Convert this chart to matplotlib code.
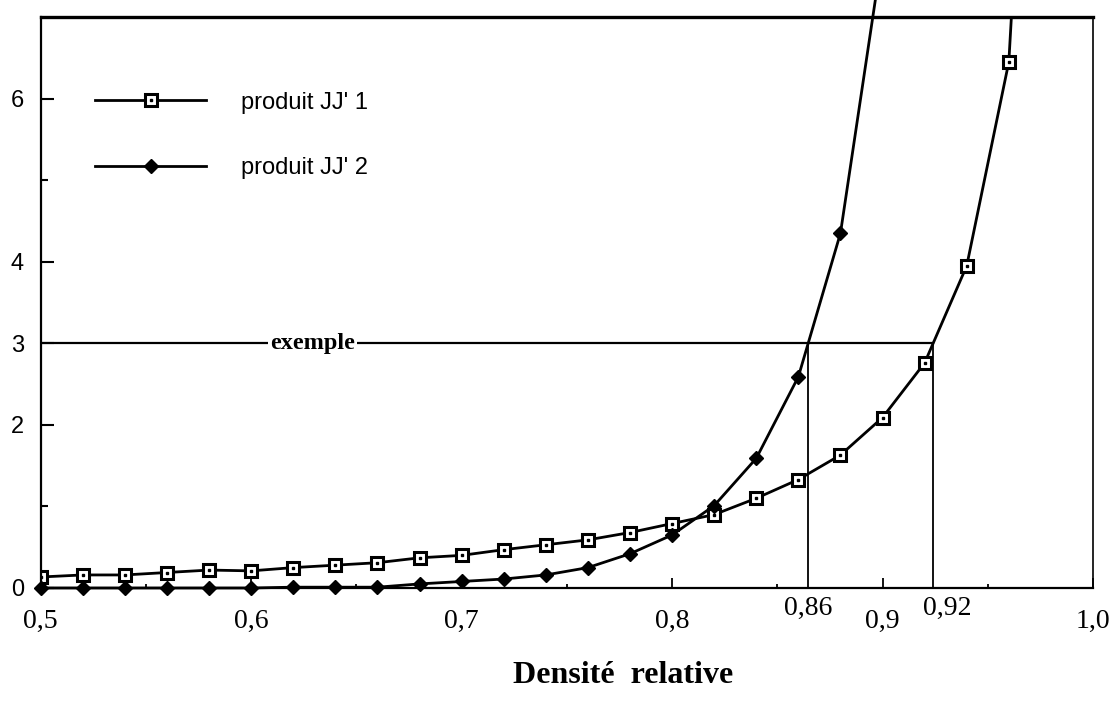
import matplotlib
matplotlib.use('Agg')
import matplotlib.pyplot as plt
import numpy as np
from matplotlib.legend_handler import HandlerTuple

# densité relative (abscisse commune)
dens1 = [0.50, 0.52, 0.54, 0.56, 0.58, 0.60, 0.62, 0.64, 0.66, 0.68, 0.70, 0.72,
         0.74, 0.76, 0.78, 0.80, 0.82, 0.84, 0.86, 0.88, 0.90, 0.92, 0.94, 0.96, 0.98]
jj1 = [0.135, 0.16, 0.16, 0.19, 0.22, 0.21, 0.25, 0.28, 0.31, 0.37, 0.40, 0.47,
       0.53, 0.59, 0.68, 0.79, 0.90, 1.10, 1.33, 1.63, 2.09, 2.76, 3.95, 6.45, 15.5]

dens2 = [0.50, 0.52, 0.54, 0.56, 0.58, 0.60, 0.62, 0.64, 0.66, 0.68, 0.70, 0.72,
         0.74, 0.76, 0.78, 0.80, 0.82, 0.84, 0.86, 0.88, 0.90]
jj2 = [0.0, 0.0, 0.0, 0.0, 0.0, 0.0, 0.01, 0.01, 0.01, 0.05, 0.08, 0.11,
       0.16, 0.25, 0.42, 0.65, 1.01, 1.59, 2.59, 4.35, 7.8]

seuil = 3  # valeur "exemple"

xticks = [0.5, 0.6, 0.7, 0.8, 0.9, 1.0]
xlabels = ['0,5', '0,6', '0,7', '0,8', '0,9', '1,0']
xminor = [0.55, 0.65, 0.75, 0.85, 0.95]
yticks = [0, 2, 3, 4, 6]
ylabels = ['0', '2', '3', '4', '6']
yminor = [1, 5]

SERIF = 'Liberation Serif'
SANS = 'Liberation Sans'


def croise(xs, ys, niveau):
    # premier point ou la courbe franchit le niveau
    for i in range(len(ys) - 1):
        if ys[i] < niveau <= ys[i + 1]:
            return xs[i] + (xs[i + 1] - xs[i]) * (niveau - ys[i]) / (ys[i + 1] - ys[i])
    return xs[-1]


fig = plt.figure(figsize=(11.16, 7.01), dpi=100)
ax = fig.add_axes([0.0365, 0.1612, 0.9429, 0.8145])

ln1, = ax.plot(dens1, jj1, color='black', lw=2.0, marker='s', ms=8.5,
               mfc='white', mec='black', mew=2.2, clip_on=True)
dot1, = ax.plot(dens1, jj1, ls='none', marker='s', ms=1.8, color='black')
ln2, = ax.plot(dens2, jj2, color='black', lw=2.0, marker='D', ms=7.2,
               mfc='black', mec='black', clip_on=False)

x_a = croise(dens2, jj2, seuil)
x_b = croise(dens1, jj1, seuil)

ax.plot([0.5, x_b], [seuil, seuil], color='black', lw=1.6)
ax.vlines([x_a, x_b], 0, seuil, color='black', lw=1.3)
ax.text(0.629, seuil, 'exemple', family=SERIF, fontsize=17.5, fontweight='bold',
        ha='center', va='center',
        bbox=dict(fc='white', ec='none', pad=1.5))

ax.set_xlim(0.5, 1.0)
ax.set_ylim(0, 7.0)

ax.set_xticks(xticks)
ax.set_xticklabels(xlabels, family=SERIF, fontsize=20)
ax.set_xticks(xminor, minor=True)
ax.set_yticks(yticks)
ax.set_yticklabels(ylabels, family=SANS, fontsize=17)
ax.set_yticks(yminor, minor=True)
ax.tick_params(axis='x', which='major', direction='in', length=7, width=1.3, pad=15)
ax.tick_params(axis='x', which='minor', direction='in', length=3, width=1.3)
ax.tick_params(axis='y', which='major', direction='in', length=9, width=1.5, pad=12)
ax.tick_params(axis='y', which='minor', direction='in', length=5, width=1.5)

# valeurs
ax.annotate('0,86', xy=(x_a, 0), xytext=(0, -6), textcoords='offset points',
            ha='center', va='top', family=SERIF, fontsize=20, annotation_clip=False)
ax.annotate('0,92', xy=(x_b, 0), xytext=(10, -6), textcoords='offset points',
            ha='center', va='top', family=SERIF, fontsize=20, annotation_clip=False)

ax.spines['top'].set_linewidth(2.4)
ax.spines['left'].set_linewidth(1.6)
ax.spines['bottom'].set_linewidth(1.6)
ax.spines['right'].set_linewidth(1.2)

ax.set_xlabel('Densité  relative', family=SERIF, fontsize=23, fontweight='bold')
ax.xaxis.set_label_coords(0.553, -0.128)

ax.legend([(ln1, dot1), ln2], ["produit JJ' 1", "produit JJ' 2"],
          handler_map={tuple: HandlerTuple(ndivide=1)},
          loc='center left', bbox_to_anchor=(0.0516, 0.7925),
          frameon=False, prop={'family': SANS, 'size': 17},
          handlelength=4.7, handletextpad=1.5, labelspacing=1.85,
          borderpad=0, borderaxespad=0, numpoints=1)

fig.savefig('out.png', dpi=100, facecolor='white')
